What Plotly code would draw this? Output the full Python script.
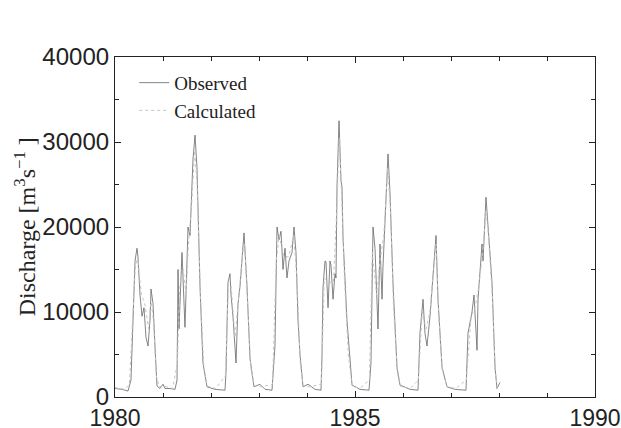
import plotly.graph_objects as go

# Observed discharge (decimal year, m3/s)
obs_t = [1980.000, 1980.146, 1980.271, 1980.333, 1980.375, 1980.396, 1980.417, 1980.458, 1980.479,
         1980.521, 1980.542, 1980.563, 1980.604, 1980.646, 1980.688, 1980.729, 1980.750, 1980.792,
         1980.833, 1980.875, 1980.938, 1981.000, 1981.042, 1981.146, 1981.250, 1981.292, 1981.313,
         1981.333, 1981.396, 1981.438, 1981.458, 1981.500, 1981.521, 1981.563, 1981.604, 1981.625,
         1981.667, 1981.708, 1981.771, 1981.833, 1981.917, 1982.083, 1982.292, 1982.313, 1982.354,
         1982.396, 1982.417, 1982.458, 1982.521, 1982.563, 1982.604, 1982.646, 1982.688, 1982.750,
         1982.813, 1982.896, 1983.021, 1983.125, 1983.271, 1983.333, 1983.375, 1983.417, 1983.458,
         1983.500, 1983.542, 1983.583, 1983.625, 1983.688, 1983.729, 1983.771, 1983.813, 1983.854,
         1983.917, 1984.021, 1984.167, 1984.292, 1984.313, 1984.333, 1984.375, 1984.396, 1984.438,
         1984.479, 1984.500, 1984.542, 1984.583, 1984.604, 1984.625, 1984.667, 1984.708, 1984.729,
         1984.750, 1984.833, 1984.938, 1985.104, 1985.292, 1985.333, 1985.354, 1985.375, 1985.417,
         1985.458, 1985.479, 1985.521, 1985.563, 1985.583, 1985.625, 1985.667, 1985.688, 1985.729,
         1985.792, 1985.875, 1985.938, 1986.146, 1986.313, 1986.354, 1986.417, 1986.458, 1986.500,
         1986.563, 1986.625, 1986.688, 1986.729, 1986.813, 1986.917, 1987.083, 1987.313, 1987.354,
         1987.438, 1987.479, 1987.542, 1987.563, 1987.646, 1987.667, 1987.729, 1987.771, 1987.854,
         1987.917, 1987.958, 1988.021]
obs_q = [1000, 900, 700, 2000, 9000, 13400, 16000, 17500, 16500,
         12000, 10500, 9500, 10500, 7000, 6000, 9000, 12700, 11000,
         6000, 1300, 1000, 1500, 1000, 1000, 900, 2000, 15000,
         8000, 17000, 12000, 8200, 16000, 20000, 19000, 25000, 28000,
         30800, 27000, 13000, 4000, 1200, 900, 800, 3000, 13500,
         14500, 12000, 9500, 4000, 11000, 13000, 16000, 19300, 13000,
         4500, 1200, 1500, 900, 800, 6000, 20000, 18500, 19500,
         15000, 17500, 14000, 16000, 17000, 20000, 17000, 9000, 5000,
         1200, 1500, 900, 800, 5000, 12800, 16000, 15900, 10500,
         16000, 15500, 11500, 14500, 14000, 24700, 32500, 25500, 24700,
         18800, 9000, 1400, 900, 800, 4000, 11500, 20000, 17500,
         10800, 8000, 18000, 11500, 15300, 21000, 25000, 28600, 24000,
         13300, 3500, 1400, 900, 800, 7500, 11500, 7500, 6000,
         9500, 14000, 19000, 11500, 3500, 1200, 900, 800, 7500,
         10000, 12000, 5500, 11500, 18000, 16000, 23500, 20000, 13500,
         3500, 1000, 1700]

# Calculated discharge (decimal year, m3/s)
calc_t = [1980.00, 1980.20, 1980.30, 1980.36, 1980.42, 1980.47, 1980.55, 1980.62, 1980.70, 1980.75,
          1980.80, 1980.86, 1980.92, 1981.00, 1981.20, 1981.30, 1981.35, 1981.42, 1981.48, 1981.53,
          1981.60, 1981.66, 1981.71, 1981.78, 1981.85, 1981.92, 1982.10, 1982.30, 1982.36, 1982.42,
          1982.50, 1982.58, 1982.66, 1982.70, 1982.77, 1982.83, 1982.90, 1983.05, 1983.28, 1983.36,
          1983.42, 1983.52, 1983.62, 1983.72, 1983.79, 1983.86, 1983.92, 1984.05, 1984.30, 1984.36,
          1984.45, 1984.55, 1984.62, 1984.67, 1984.72, 1984.78, 1984.86, 1984.94, 1985.10, 1985.30,
          1985.36, 1985.45, 1985.52, 1985.60, 1985.68, 1985.74, 1985.80, 1985.88, 1985.94, 1986.15,
          1986.32, 1986.40, 1986.48, 1986.56, 1986.63, 1986.69, 1986.74, 1986.82, 1986.92, 1987.10,
          1987.32, 1987.42, 1987.50, 1987.58, 1987.66, 1987.73, 1987.78, 1987.86, 1987.92, 1987.97]
calc_q = [1100, 900, 1500, 8000, 15000, 16500, 12000, 11000, 8000, 11500,
          9000, 2500, 1200, 1300, 1000, 4000, 13000, 15000, 12000, 18000,
          23000, 29000, 25000, 12000, 3500, 1300, 1000, 2500, 12500, 13000,
          7000, 12000, 17000, 18000, 11000, 3500, 1300, 1200, 1500, 16000,
          19000, 16500, 16500, 19000, 14000, 4000, 1300, 1200, 1500, 14000,
          13500, 13500, 22000, 30500, 24000, 14000, 5000, 1300, 1000, 2000,
          17000, 12000, 16000, 19000, 27000, 22000, 11000, 3000, 1300, 1000,
          2000, 10000, 8000, 10000, 14500, 18000, 10000, 3000, 1200, 1000,
          2000, 9500, 10500, 13000, 17000, 22000, 19000, 12000, 3000, 1100]

x_ticks = [1980, 1985, 1990]
y_ticks = [0, 10000, 20000, 30000, 40000]
y_title = "Discharge [m<sup>3</sup>s<sup>−1</sup> ]"

fig = go.Figure()
fig.add_trace(go.Scatter(x=obs_t, y=obs_q, mode="lines", name="Observed",
                         line=dict(color="#666666", width=0.8)))
fig.add_trace(go.Scatter(x=calc_t, y=calc_q, mode="lines", name="Calculated",
                         line=dict(color="#c4c4c4", width=1, dash="dot")))

axis_common = dict(showline=True, linecolor="#222222", linewidth=1.2, mirror="ticks",
                   ticks="inside", ticklen=6, tickcolor="#222222", showgrid=False,
                   zeroline=False, automargin=False)

fig.update_layout(
    width=621, height=428,
    margin=dict(l=115, r=26, t=57, b=31),
    paper_bgcolor="white", plot_bgcolor="white",
    showlegend=True,
    legend=dict(x=0.04, y=0.98, xanchor="left", yanchor="top",
                bgcolor="rgba(0,0,0,0)",
                font=dict(family="Liberation Serif, Times New Roman", size=19, color="#222222")),
    xaxis=dict(range=[1980, 1990], tickvals=x_ticks, ticktext=[str(v) for v in x_ticks],
               minor=dict(dtick=1, tick0=1980, ticks="inside", ticklen=4, tickcolor="#222222"),
               tickfont=dict(family="Liberation Sans, Arial", size=23, color="#222222"),
               **axis_common),
    yaxis=dict(range=[0, 40000], tickvals=y_ticks, ticktext=[str(v) for v in y_ticks],
               minor=dict(dtick=5000, tick0=0, ticks="inside", ticklen=4, tickcolor="#222222"),
               tickfont=dict(family="Liberation Sans, Arial", size=24, color="#222222"),
               **axis_common),
    annotations=[dict(text=y_title, textangle=-90, xref="paper", yref="paper",
                      x=-0.187, y=0.5, xanchor="center", yanchor="middle", showarrow=False,
                      font=dict(family="Liberation Serif, Times New Roman", size=24,
                                color="#222222"))],
)

fig.write_html("out.html", config={"displayModeBar": False},
               post_script="document.body.style.margin='0';document.body.style.overflow='hidden';")
